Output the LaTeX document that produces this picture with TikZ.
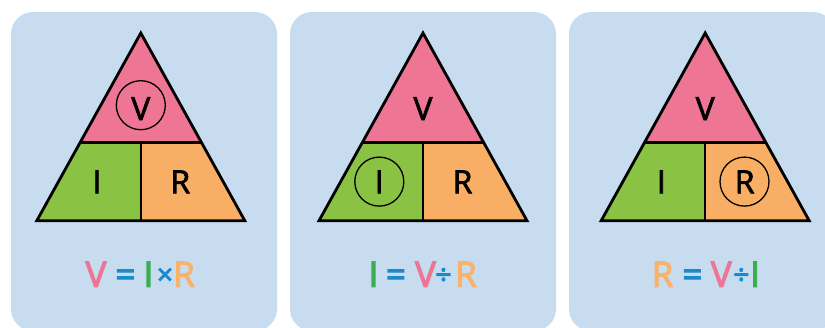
\documentclass[tikz,border=0pt]{standalone}
\usepackage{fontspec}
\setmainfont{Open Sans}
\newfontfamily\lblfont[FakeBold=2.2]{Open Sans}
\newfontfamily\eqfont[FakeBold=3.2]{Open Sans}
\definecolor{panelbg}{HTML}{C7DCEF}
\definecolor{tripink}{HTML}{EE7593}
\definecolor{trigreen}{HTML}{8AC243}
\definecolor{triorange}{HTML}{F8AF65}
\definecolor{txtpink}{HTML}{EE7593}
\definecolor{txtgreen}{HTML}{3DAE4F}
\definecolor{txtorange}{HTML}{F9B26B}
\definecolor{txtblue}{HTML}{1B8ACB}
\begin{document}
\begin{tikzpicture}[x=1pt,y=-1pt,
  panel/.style={fill=panelbg, rounded corners=22pt},
  tri/.style={draw=black, line width=2.8pt, line join=miter},
  divider/.style={draw=black, line width=2.4pt},
  lbl/.style={font=\lblfont\fontsize{32}{32}\selectfont, anchor=base, inner sep=0pt, text=black},
  eq/.style={font=\eqfont\fontsize{35}{35}\selectfont, anchor=base, inner sep=0pt},
  op/.style={font=\eqfont\fontsize{28}{28}\selectfont, anchor=base, inner sep=0pt, text=txtblue},
  ring/.style={draw=black, line width=1.3pt, circle, minimum size=49pt, inner sep=0pt}]
\useasboundingbox (0,0) rectangle (825,327);
\begin{scope}
\clip (0,0) rectangle (825,327);
\fill[white] (0,0) rectangle (825,327);
\foreach \px/\cx/\n in {11/140.8/a, 290/423/b, 569/705.2/c} {
  \fill[panel] (\px,12) rectangle ++(266,319);
  \coordinate (top\n) at (\cx,33);
  \coordinate (bl\n) at (\cx-104,220.7);
  \coordinate (br\n) at (\cx+104,220.7);
  \coordinate (ml\n) at (\cx-60.7,142.5);
  \coordinate (mr\n) at (\cx+60.7,142.5);
  \coordinate (mm\n) at (\cx,142.5);
  \coordinate (mb\n) at (\cx,220.7);
  \fill[tripink] (top\n) -- (ml\n) -- (mr\n) -- cycle;
  \fill[trigreen] (ml\n) -- (bl\n) -- (mb\n) -- (mm\n) -- cycle;
  \fill[triorange] (mm\n) -- (mb\n) -- (br\n) -- (mr\n) -- cycle;
  \draw[divider] (ml\n) -- (mr\n);
  \draw[divider] (mm\n) -- (mb\n);
  \draw[tri] (top\n) -- (bl\n) -- (br\n) -- cycle;
  \node[lbl] (V\n) at (\cx,120) {V};
  \node[lbl] (I\n) at (\cx-43.8,193.3) {I};
  \node[lbl] (R\n) at (\cx+39.5,193.3) {R};
}
\end{scope}
% circles
\node[ring] (ringa) at (140.8,105.2) {};
\node[ring] (ringb) at (379.3,181.6) {};
\node[ring] (ringc) at (744.5,181.6) {};
% equation 1
\node[eq, text=txtpink] (e1v) at (96,286.7) {V};
\node[eq, text=txtblue] (e1eq) at (125.5,286.7) {=};
\node[eq, text=txtgreen] (e1i) at (148.5,286.7) {I};
\node[op] (e1x) at (165,284.5) {×};
\node[eq, text=txtorange] (e1r) at (184,286.7) {R};
% equation 2
\node[eq, text=txtgreen] (e2i) at (373.5,286.7) {I};
\node[eq, text=txtblue] (e2eq) at (396,286.7) {=};
\node[eq, text=txtpink] (e2v) at (425.5,286.7) {V};
\node[op] (e2d) at (443.5,284.5) {÷};
\node[eq, text=txtorange] (e2r) at (466,286.7) {R};
% equation 3
\node[eq, text=txtorange] (e3r) at (662.5,286.7) {R};
\node[eq, text=txtblue] (e3eq) at (692.3,286.7) {=};
\node[eq, text=txtpink] (e3v) at (721.3,286.7) {V};
\node[op] (e3d) at (741.3,284.5) {÷};
\node[eq, text=txtgreen] (e3i) at (755,286.7) {I};
\end{tikzpicture}
\end{document}
